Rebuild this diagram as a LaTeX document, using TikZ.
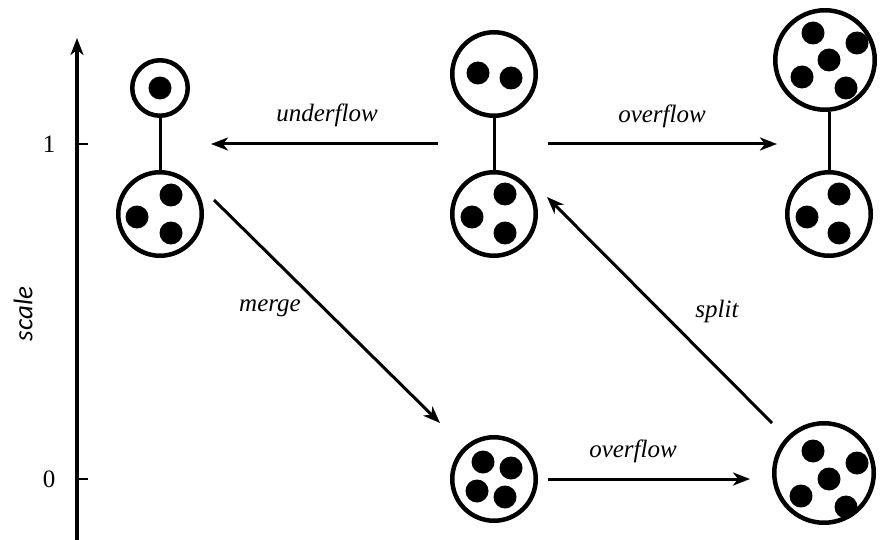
\documentclass[tikz,border=0pt]{standalone}
\usepackage{fontspec}
\setmainfont{Liberation Serif}
\newfontfamily\scalefont{Carlito}
\usetikzlibrary{arrows.meta}
\tikzset{
  cell/.style={circle,draw,line width=4.5pt,inner sep=0pt,minimum size=#1},
  dot/.style={circle,fill=black,inner sep=0pt,minimum size=23pt},
  link/.style={line width=3pt},
  flow/.style={line width=3pt,-{Stealth[length=17pt,width=13pt,inset=5pt]}},
  lab/.style={font=\fontsize{25}{28}\selectfont\itshape,inner sep=0pt},
  tick/.style={font=\fontsize{25}{28}\selectfont,inner sep=0pt}
}
\begin{document}
\begin{tikzpicture}[x=1pt,y=-1pt]
\useasboundingbox (0,0) rectangle (880,540);
% axis
\coordinate (axb) at (77,540);
\coordinate (axt) at (77,38);
\draw[line width=3.5pt,-{Stealth[length=17pt,width=13pt,inset=5pt]}] (axb) -- (axt);
\coordinate (t1) at (77,144); \coordinate (t1e) at (88,144);
\coordinate (t0) at (77,479); \coordinate (t0e) at (88,479);
\draw[line width=2pt] (t1) -- (t1e);
\draw[line width=2pt] (t0) -- (t0e);
\node[tick] (one) at (49,144) {1};
\node[tick] (zero) at (49,479) {0};
\node[font=\fontsize{27}{30}\selectfont\scalefont\itshape,rotate=90,inner sep=0pt] (scl) at (23,314) {scale};

% left stack
\node[cell=55.5pt] (lt) at (160,88) {};
\node[dot] at (160,88) {};
\node[cell=83.5pt] (lb) at (160,214) {};
\node[dot] at (171,195) {};
\node[dot] at (137,217) {};
\node[dot] at (171,233) {};
\draw[link] (lt.south) -- (lb.north);

% middle stack
\node[cell=83.5pt] (mt) at (494,74) {};
\node[dot] at (478,73) {};
\node[dot] at (511,78) {};
\node[cell=83.5pt] (mb) at (494,214) {};
\node[dot] at (505,194) {};
\node[dot] at (472,217) {};
\node[dot] at (505,233) {};
\draw[link] (mt.south) -- (mb.north);

% right stack
\node[cell=99.5pt] (rt) at (825,60) {};
\node[dot] at (813,33) {};
\node[dot] at (857,43) {};
\node[dot] at (829,60) {};
\node[dot] at (802,77) {};
\node[dot] at (846,88) {};
\node[cell=83.5pt] (rb) at (829,214) {};
\node[dot] at (839,194) {};
\node[dot] at (807,217) {};
\node[dot] at (839,233) {};
\draw[link] (rb.north) -- (rb.north |- rt.south);

% bottom middle
\node[cell=83.5pt] (bm) at (494,479) {};
\node[dot] at (483,462) {};
\node[dot] at (511,468) {};
\node[dot] at (477,491) {};
\node[dot] at (505,497) {};

% bottom right
\node[cell=99.5pt] (br) at (824,473) {};
\node[dot] at (813,451) {};
\node[dot] at (857,463) {};
\node[dot] at (829,479) {};
\node[dot] at (801,496) {};
\node[dot] at (846,507) {};

% connector end points
\coordinate (uA) at (438,144); \coordinate (uB) at (211,144);
\coordinate (oA) at (548,144); \coordinate (oB) at (777,144);
\coordinate (mA) at (214,200); \coordinate (mB) at (440,423);
\coordinate (bA) at (548,479); \coordinate (bB) at (750,479);
\coordinate (sA) at (772,423); \coordinate (sB) at (547,197);

\draw[flow] (uA) -- (uB);
\draw[flow] (oA) -- (oB);
\draw[flow] (mA) -- (mB);
\draw[flow] (bA) -- (bB);
\draw[flow] (sA) -- (sB);

\node[lab] (lu) at (327,115) {underflow};
\node[lab] (lo) at (662,116) {overflow};
\node[lab] (lm) at (270,308) {merge};
\node[lab] (lbo) at (633,451) {overflow};
\node[lab] (ls) at (717,311) {split};
\end{tikzpicture}
\end{document}
